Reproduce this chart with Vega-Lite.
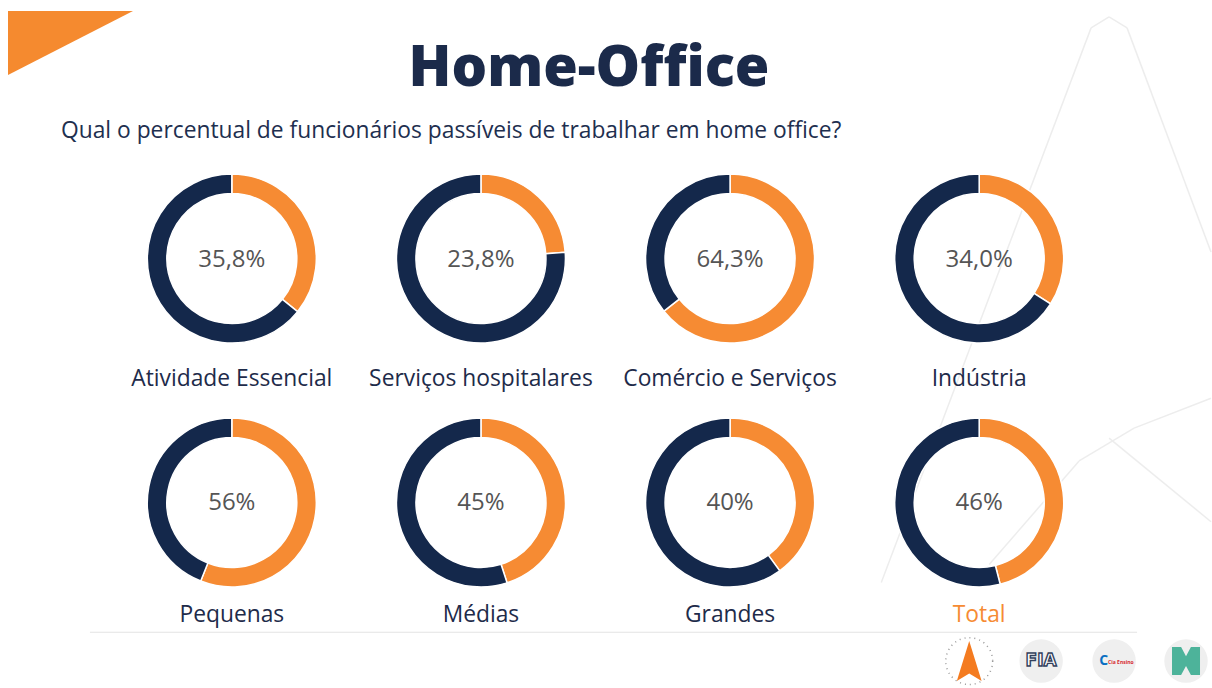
{
  "$schema": "https://vega.github.io/schema/vega-lite/v6.json",
  "width": 1212,
  "height": 688,
  "autosize": {"type": "fit", "contains": "padding"},
  "padding": 0,
  "background": "white",
  "config": {"view": {"stroke": null}, "font": "Open Sans"},
  "data": {
    "values": [
      {"categoria": "Atividade Essencial", "grupo": "Setor", "linha": 1, "coluna": 1, "parte": "Home office", "valor": 35.8, "rotulo": "35,8%"},
      {"categoria": "Atividade Essencial", "grupo": "Setor", "linha": 1, "coluna": 1, "parte": "Presencial", "valor": 64.2, "rotulo": "64,2%"},
      {"categoria": "Serviços hospitalares", "grupo": "Setor", "linha": 1, "coluna": 2, "parte": "Home office", "valor": 23.8, "rotulo": "23,8%"},
      {"categoria": "Serviços hospitalares", "grupo": "Setor", "linha": 1, "coluna": 2, "parte": "Presencial", "valor": 76.2, "rotulo": "76,2%"},
      {"categoria": "Comércio e Serviços", "grupo": "Setor", "linha": 1, "coluna": 3, "parte": "Home office", "valor": 64.3, "rotulo": "64,3%"},
      {"categoria": "Comércio e Serviços", "grupo": "Setor", "linha": 1, "coluna": 3, "parte": "Presencial", "valor": 35.7, "rotulo": "35,7%"},
      {"categoria": "Indústria", "grupo": "Setor", "linha": 1, "coluna": 4, "parte": "Home office", "valor": 34.0, "rotulo": "34,0%"},
      {"categoria": "Indústria", "grupo": "Setor", "linha": 1, "coluna": 4, "parte": "Presencial", "valor": 66.0, "rotulo": "66,0%"},
      {"categoria": "Pequenas", "grupo": "Porte", "linha": 2, "coluna": 1, "parte": "Home office", "valor": 56, "rotulo": "56%"},
      {"categoria": "Pequenas", "grupo": "Porte", "linha": 2, "coluna": 1, "parte": "Presencial", "valor": 44, "rotulo": "44%"},
      {"categoria": "Médias", "grupo": "Porte", "linha": 2, "coluna": 2, "parte": "Home office", "valor": 45, "rotulo": "45%"},
      {"categoria": "Médias", "grupo": "Porte", "linha": 2, "coluna": 2, "parte": "Presencial", "valor": 55, "rotulo": "55%"},
      {"categoria": "Grandes", "grupo": "Porte", "linha": 2, "coluna": 3, "parte": "Home office", "valor": 40, "rotulo": "40%"},
      {"categoria": "Grandes", "grupo": "Porte", "linha": 2, "coluna": 3, "parte": "Presencial", "valor": 60, "rotulo": "60%"},
      {"categoria": "Total", "grupo": "Porte", "linha": 2, "coluna": 4, "parte": "Home office", "valor": 46, "rotulo": "46%"},
      {"categoria": "Total", "grupo": "Porte", "linha": 2, "coluna": 4, "parte": "Presencial", "valor": 54, "rotulo": "54%"}
    ]
  },
  "layer": [
    {
      "data": {"values": [{}]},
      "mark": {"type": "rule", "color": "#EDEDED", "strokeWidth": 1.5},
      "encoding": {
        "x": {"datum": 4.4492, "type": "quantitative", "scale": {"domain": [0.0695, 4.9305], "nice": false, "zero": false}, "axis": null},
        "y": {"datum": 0.0543, "type": "quantitative", "scale": {"domain": [-0.06, 2.7482], "nice": false, "zero": false, "reverse": true}, "axis": null},
        "x2": {"datum": 3.607},
        "y2": {"datum": 2.3278}
      }
    },
    {
      "data": {"values": [{}]},
      "mark": {"type": "rule", "color": "#EDEDED", "strokeWidth": 1.5},
      "encoding": {
        "x": {"datum": 4.5936, "type": "quantitative", "scale": {"domain": [0.0695, 4.9305], "nice": false, "zero": false}, "axis": null},
        "y": {"datum": 0.0543, "type": "quantitative", "scale": {"domain": [-0.06, 2.7482], "nice": false, "zero": false, "reverse": true}, "axis": null},
        "x2": {"datum": 4.9305},
        "y2": {"datum": 0.9727}
      }
    },
    {
      "data": {"values": [{}]},
      "mark": {"type": "rule", "color": "#EDEDED", "strokeWidth": 1.5},
      "encoding": {
        "x": {"datum": 4.4492, "type": "quantitative", "scale": {"domain": [0.0695, 4.9305], "nice": false, "zero": false}, "axis": null},
        "y": {"datum": 0.0543, "type": "quantitative", "scale": {"domain": [-0.06, 2.7482], "nice": false, "zero": false, "reverse": true}, "axis": null},
        "x2": {"datum": 4.5214},
        "y2": {"datum": 0.0094}
      }
    },
    {
      "data": {"values": [{}]},
      "mark": {"type": "rule", "color": "#EDEDED", "strokeWidth": 1.5},
      "encoding": {
        "x": {"datum": 4.5214, "type": "quantitative", "scale": {"domain": [0.0695, 4.9305], "nice": false, "zero": false}, "axis": null},
        "y": {"datum": 0.0094, "type": "quantitative", "scale": {"domain": [-0.06, 2.7482], "nice": false, "zero": false, "reverse": true}, "axis": null},
        "x2": {"datum": 4.5936},
        "y2": {"datum": 0.0543}
      }
    },
    {
      "data": {"values": [{}]},
      "mark": {"type": "rule", "color": "#EDEDED", "strokeWidth": 1.5},
      "encoding": {
        "x": {"datum": 4.0401, "type": "quantitative", "scale": {"domain": [0.0695, 4.9305], "nice": false, "zero": false}, "axis": null},
        "y": {"datum": 2.2543, "type": "quantitative", "scale": {"domain": [-0.06, 2.7482], "nice": false, "zero": false, "reverse": true}, "axis": null},
        "x2": {"datum": 4.4011},
        "y2": {"datum": 1.8298}
      }
    },
    {
      "data": {"values": [{}]},
      "mark": {"type": "rule", "color": "#EDEDED", "strokeWidth": 1.5},
      "encoding": {
        "x": {"datum": 4.4011, "type": "quantitative", "scale": {"domain": [0.0695, 4.9305], "nice": false, "zero": false}, "axis": null},
        "y": {"datum": 1.8298, "type": "quantitative", "scale": {"domain": [-0.06, 2.7482], "nice": false, "zero": false, "reverse": true}, "axis": null},
        "x2": {"datum": 4.6217},
        "y2": {"datum": 1.6951}
      }
    },
    {
      "data": {"values": [{}]},
      "mark": {"type": "rule", "color": "#EDEDED", "strokeWidth": 1.5},
      "encoding": {
        "x": {"datum": 4.6217, "type": "quantitative", "scale": {"domain": [0.0695, 4.9305], "nice": false, "zero": false}, "axis": null},
        "y": {"datum": 1.6951, "type": "quantitative", "scale": {"domain": [-0.06, 2.7482], "nice": false, "zero": false, "reverse": true}, "axis": null},
        "x2": {"datum": 4.9305},
        "y2": {"datum": 1.5727}
      }
    },
    {
      "data": {"values": [{}]},
      "mark": {"type": "rule", "color": "#EDEDED", "strokeWidth": 1.5},
      "encoding": {
        "x": {"datum": 4.5214, "type": "quantitative", "scale": {"domain": [0.0695, 4.9305], "nice": false, "zero": false}, "axis": null},
        "y": {"datum": 1.7359, "type": "quantitative", "scale": {"domain": [-0.06, 2.7482], "nice": false, "zero": false, "reverse": true}, "axis": null},
        "x2": {"datum": 4.9305},
        "y2": {"datum": 2.0788}
      }
    },
    {
      "data": {"values": [{}]},
      "mark": {"type": "point", "shape": "M0,0 L2,0 L0,1.024 Z", "size": 15625, "filled": true, "color": "#F58A2F", "opacity": 1, "strokeWidth": 0},
      "encoding": {
        "x": {"datum": 0.1016, "type": "quantitative", "scale": {"domain": [0.0695, 4.9305], "nice": false, "zero": false}, "axis": null},
        "y": {"datum": -0.0151, "type": "quantitative", "scale": {"domain": [-0.06, 2.7482], "nice": false, "zero": false, "reverse": true}, "axis": null}
      }
    },
    {
      "data": {"values": [{}]},
      "mark": {"type": "rule", "color": "#E3E3E3", "strokeWidth": 1},
      "encoding": {
        "x": {"datum": 0.4305, "type": "quantitative", "scale": {"domain": [0.0695, 4.9305], "nice": false, "zero": false}, "axis": null},
        "y": {"datum": 2.532, "type": "quantitative", "scale": {"domain": [-0.06, 2.7482], "nice": false, "zero": false, "reverse": true}, "axis": null},
        "x2": {"datum": 4.6337}
      }
    },
    {
      "data": {"values": [{}]},
      "mark": {"type": "point", "shape": "circle", "size": 2200, "filled": false, "stroke": "#9A9A9A", "strokeWidth": 1.5, "strokeDash": [1, 4], "opacity": 1},
      "encoding": {
        "x": {"datum": 3.96, "type": "quantitative", "scale": {"domain": [0.0695, 4.9305], "nice": false, "zero": false}, "axis": null},
        "y": {"datum": 2.6502, "type": "quantitative", "scale": {"domain": [-0.06, 2.7482], "nice": false, "zero": false, "reverse": true}, "axis": null}
      }
    },
    {
      "data": {"values": [{}]},
      "mark": {"type": "point", "shape": "M0,-1 L0.62,1 L0,0.62 L-0.62,1 Z", "size": 1600, "filled": true, "color": "#F47B20", "opacity": 1, "strokeWidth": 0},
      "encoding": {
        "x": {"datum": 3.96, "type": "quantitative", "scale": {"domain": [0.0695, 4.9305], "nice": false, "zero": false}, "axis": null},
        "y": {"datum": 2.6502, "type": "quantitative", "scale": {"domain": [-0.06, 2.7482], "nice": false, "zero": false, "reverse": true}, "axis": null}
      }
    },
    {
      "data": {"values": [{}]},
      "mark": {"type": "point", "shape": "circle", "size": 1886, "filled": true, "color": "#EFEFEF", "opacity": 1, "strokeWidth": 0},
      "encoding": {
        "x": {"datum": 4.2487, "type": "quantitative", "scale": {"domain": [0.0695, 4.9305], "nice": false, "zero": false}, "axis": null},
        "y": {"datum": 2.6502, "type": "quantitative", "scale": {"domain": [-0.06, 2.7482], "nice": false, "zero": false, "reverse": true}, "axis": null}
      }
    },
    {
      "data": {"values": [{}]},
      "mark": {"type": "point", "shape": "circle", "size": 1886, "filled": true, "color": "#EFEFEF", "opacity": 1, "strokeWidth": 0},
      "encoding": {
        "x": {"datum": 4.5415, "type": "quantitative", "scale": {"domain": [0.0695, 4.9305], "nice": false, "zero": false}, "axis": null},
        "y": {"datum": 2.6502, "type": "quantitative", "scale": {"domain": [-0.06, 2.7482], "nice": false, "zero": false, "reverse": true}, "axis": null}
      }
    },
    {
      "data": {"values": [{}]},
      "mark": {"type": "point", "shape": "circle", "size": 1886, "filled": true, "color": "#EFEFEF", "opacity": 1, "strokeWidth": 0},
      "encoding": {
        "x": {"datum": 4.8302, "type": "quantitative", "scale": {"domain": [0.0695, 4.9305], "nice": false, "zero": false}, "axis": null},
        "y": {"datum": 2.6502, "type": "quantitative", "scale": {"domain": [-0.06, 2.7482], "nice": false, "zero": false, "reverse": true}, "axis": null}
      }
    },
    {
      "data": {"values": [{}]},
      "mark": {"type": "text", "text": "FIA", "fontSize": 17, "fontWeight": 900, "font": "DejaVu Sans", "color": "#FFFFFF", "stroke": "#33415C", "strokeWidth": 1.4, "baseline": "middle", "align": "center"},
      "encoding": {
        "x": {"datum": 4.2487, "type": "quantitative", "scale": {"domain": [0.0695, 4.9305], "nice": false, "zero": false}, "axis": null},
        "y": {"datum": 2.6502, "type": "quantitative", "scale": {"domain": [-0.06, 2.7482], "nice": false, "zero": false, "reverse": true}, "axis": null}
      }
    },
    {
      "data": {"values": [{}]},
      "mark": {"type": "text", "text": "C", "fontSize": 14, "fontWeight": "bold", "color": "#0A6FC2", "baseline": "middle", "align": "right", "dx": -6},
      "encoding": {
        "x": {"datum": 4.5415, "type": "quantitative", "scale": {"domain": [0.0695, 4.9305], "nice": false, "zero": false}, "axis": null},
        "y": {"datum": 2.6502, "type": "quantitative", "scale": {"domain": [-0.06, 2.7482], "nice": false, "zero": false, "reverse": true}, "axis": null}
      }
    },
    {
      "data": {"values": [{}]},
      "mark": {"type": "text", "text": "Cia Ensino", "fontSize": 5, "fontWeight": "bold", "color": "#D7282F", "baseline": "middle", "align": "left", "dx": -6, "dy": 1},
      "encoding": {
        "x": {"datum": 4.5415, "type": "quantitative", "scale": {"domain": [0.0695, 4.9305], "nice": false, "zero": false}, "axis": null},
        "y": {"datum": 2.6502, "type": "quantitative", "scale": {"domain": [-0.06, 2.7482], "nice": false, "zero": false, "reverse": true}, "axis": null}
      }
    },
    {
      "data": {"values": [{}]},
      "mark": {"type": "point", "shape": "M-1,-1 L-0.35,-1 L0,-0.35 L0.35,-1 L1,-1 L1,1 L0.35,1 L0,0.35 L-0.35,1 L-1,1 Z", "size": 784, "filled": true, "color": "#4DB39A", "opacity": 1, "strokeWidth": 0},
      "encoding": {
        "x": {"datum": 4.8302, "type": "quantitative", "scale": {"domain": [0.0695, 4.9305], "nice": false, "zero": false}, "axis": null},
        "y": {"datum": 2.6502, "type": "quantitative", "scale": {"domain": [-0.06, 2.7482], "nice": false, "zero": false, "reverse": true}, "axis": null}
      }
    },
    {
      "transform": [
        {"stack": "valor", "groupby": ["categoria"], "sort": [{"field": "parte", "order": "ascending"}], "as": ["v0", "v1"]}
      ],
      "mark": {"type": "arc", "outerRadius": 84.5, "innerRadius": 65, "stroke": "#FFFFFF", "strokeWidth": 1.5},
      "encoding": {
        "x": {"field": "coluna", "type": "quantitative", "scale": {"domain": [0.0695, 4.9305], "nice": false, "zero": false}, "axis": null},
        "y": {"field": "linha", "type": "quantitative", "scale": {"domain": [-0.06, 2.7482], "nice": false, "zero": false, "reverse": true}, "axis": null},
        "theta": {"field": "v0", "type": "quantitative", "scale": {"domain": [0, 100]}, "stack": null},
        "theta2": {"field": "v1"},
        "color": {"field": "parte", "type": "nominal", "scale": {"domain": ["Home office", "Presencial"], "range": ["#F68B33", "#14284B"]}, "legend": null}
      }
    },
    {
      "transform": [{"filter": "datum.parte === 'Home office'"}],
      "mark": {"type": "text", "fontSize": 24, "color": "#555555", "baseline": "middle", "align": "center", "dy": 1},
      "encoding": {
        "x": {"field": "coluna", "type": "quantitative", "scale": {"domain": [0.0695, 4.9305], "nice": false, "zero": false}, "axis": null},
        "y": {"field": "linha", "type": "quantitative", "scale": {"domain": [-0.06, 2.7482], "nice": false, "zero": false, "reverse": true}, "axis": null},
        "text": {"field": "rotulo"}
      }
    },
    {
      "transform": [{"filter": "datum.parte === 'Home office' && datum.linha === 1"}],
      "mark": {"type": "text", "fontSize": 22.8, "baseline": "alphabetic", "align": "center", "dy": 127},
      "encoding": {
        "x": {"field": "coluna", "type": "quantitative", "scale": {"domain": [0.0695, 4.9305], "nice": false, "zero": false}, "axis": null},
        "y": {"field": "linha", "type": "quantitative", "scale": {"domain": [-0.06, 2.7482], "nice": false, "zero": false, "reverse": true}, "axis": null},
        "text": {"field": "categoria"},
        "color": {"condition": {"test": "datum.categoria === 'Total'", "value": "#F68B33"}, "value": "#1E2B4A"}
      }
    },
    {
      "transform": [{"filter": "datum.parte === 'Home office' && datum.linha === 2"}],
      "mark": {"type": "text", "fontSize": 22.8, "baseline": "alphabetic", "align": "center", "dy": 120},
      "encoding": {
        "x": {"field": "coluna", "type": "quantitative", "scale": {"domain": [0.0695, 4.9305], "nice": false, "zero": false}, "axis": null},
        "y": {"field": "linha", "type": "quantitative", "scale": {"domain": [-0.06, 2.7482], "nice": false, "zero": false, "reverse": true}, "axis": null},
        "text": {"field": "categoria"},
        "color": {"condition": {"test": "datum.categoria === 'Total'", "value": "#F68B33"}, "value": "#1E2B4A"}
      }
    },
    {
      "data": {"values": [{}]},
      "mark": {"type": "text", "text": "Home-Office", "fontSize": 56, "fontWeight": 800, "color": "#1B2A4A", "baseline": "alphabetic", "align": "center"},
      "encoding": {
        "x": {"datum": 2.4339, "type": "quantitative", "scale": {"domain": [0.0695, 4.9305], "nice": false, "zero": false}, "axis": null},
        "y": {"datum": 0.291, "type": "quantitative", "scale": {"domain": [-0.06, 2.7482], "nice": false, "zero": false, "reverse": true}, "axis": null}
      }
    },
    {
      "data": {"values": [{}]},
      "mark": {"type": "text", "text": "Qual o percentual de funcionários passíveis de trabalhar em home office?", "fontSize": 22.8, "color": "#1E2F4F", "baseline": "alphabetic", "align": "left"},
      "encoding": {
        "x": {"datum": 0.3142, "type": "quantitative", "scale": {"domain": [0.0695, 4.9305], "nice": false, "zero": false}, "axis": null},
        "y": {"datum": 0.5073, "type": "quantitative", "scale": {"domain": [-0.06, 2.7482], "nice": false, "zero": false, "reverse": true}, "axis": null}
      }
    }
  ]
}
